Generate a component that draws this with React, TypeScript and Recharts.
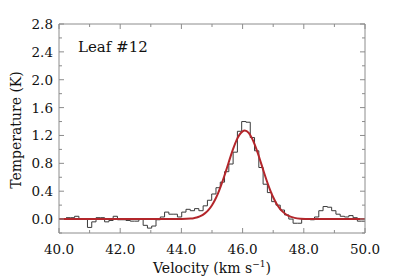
import React from 'react';
import { LineChart, Line, XAxis, YAxis } from 'recharts';

// spectrum channels (km/s) and brightness temperature (K)
const channelStart = 40.23;
const channelWidth = 0.14;
const spectrumT = [
  0.02, 0.02, 0.04, 0.0, 0.0, -0.12, -0.04, 0.02, 0.02, -0.04,
  -0.02, 0.04, -0.01, -0.01, -0.02, -0.03, -0.03, 0.0, -0.09, -0.13,
  -0.1, -0.01, 0.03, 0.1, 0.07, 0.07, 0.03, 0.1, 0.14, 0.12,
  0.15, 0.12, 0.19, 0.27, 0.36, 0.45, 0.53, 0.68, 0.79, 0.96,
  1.26, 1.4, 1.39, 1.17, 0.98, 0.74, 0.5, 0.38, 0.25, 0.2,
  0.13, 0.06, 0.0, -0.06, -0.06, 0.0, 0.0, -0.01, 0.03, 0.12,
  0.18, 0.17, 0.12, 0.07, 0.04, 0.03, 0.05, 0.02, -0.03, -0.03,
];

// gaussian fit
const fitV = [
  40.0, 42.0, 43.5, 44.0, 44.3, 44.4, 44.5, 44.6, 44.7, 44.8, 44.9, 45.0, 45.1, 45.2,
  45.3, 45.4, 45.5, 45.6, 45.7, 45.8, 45.9, 46.0, 46.07, 46.2, 46.3, 46.4, 46.5,
  46.6, 46.7, 46.8, 46.9, 47.0, 47.1, 47.2, 47.3, 47.4, 47.5, 47.7, 47.9, 48.2, 50.0,
];
const fitT = [
  0, 0, 0, 0.002, 0.008, 0.013, 0.022, 0.038, 0.061, 0.093, 0.139, 0.199, 0.277, 0.373,
  0.487, 0.614, 0.751, 0.889, 1.018, 1.129, 1.212, 1.26, 1.27, 1.236, 1.166, 1.065, 0.942,
  0.806, 0.668, 0.536, 0.417, 0.313, 0.228, 0.161, 0.11, 0.073, 0.046, 0.017, 0.006, 0.001, 0,
];

const xTicks = [40, 41, 42, 43, 44, 45, 46, 47, 48, 49, 50];
const yTicks = [-0.2, 0, 0.2, 0.4, 0.6, 0.8, 1.0, 1.2, 1.4, 1.6, 1.8, 2.0, 2.2, 2.4, 2.6, 2.8];

// only DejaVu Serif gives real serifs in this sandbox
const FONT = 'DejaVu Serif';
const AXIS = '#8c8c8c';

// stepAfter needs the left edge of every channel plus a closing point
const histData = spectrumT.map((t, i) => ({ v: +(channelStart + i * channelWidth).toFixed(3), t }));
histData.push({
  v: Math.min(50, channelStart + spectrumT.length * channelWidth),
  t: spectrumT[spectrumT.length - 1],
});
const fitData = fitV.map((v, i) => ({ v, t: fitT[i] }));

const isMajorX = (v: number) => Math.round(v) % 2 === 0;
const isMajorY = (v: number) => Math.round(v * 10) % 4 === 0;

const BottomTick = (props: any) => {
  const { x, y, payload } = props;
  const major = isMajorX(payload.value);
  return (
    <g>
      <line x1={x} y1={y} x2={x} y2={y - (major ? 5 : 3)} stroke={AXIS} />
      {major && (
        <text x={x} y={y + 21} textAnchor="middle" fontSize={13.5} fontFamily={FONT} fill="#111">
          {payload.value.toFixed(1)}
        </text>
      )}
    </g>
  );
};

const TopTick = (props: any) => {
  const { x, y, payload } = props;
  const major = isMajorX(payload.value);
  return <line x1={x} y1={y} x2={x} y2={y + (major ? 5 : 3)} stroke={AXIS} />;
};

const LeftTick = (props: any) => {
  const { x, y, payload } = props;
  const major = isMajorY(payload.value);
  return (
    <g>
      <line x1={x} y1={y} x2={x + (major ? 5 : 3)} y2={y} stroke={AXIS} />
      {major && (
        <text x={x - 6} y={y + 5} textAnchor="end" fontSize={13.5} fontFamily={FONT} fill="#111">
          {payload.value.toFixed(1)}
        </text>
      )}
    </g>
  );
};

const RightTick = (props: any) => {
  const { x, y, payload } = props;
  const major = isMajorY(payload.value);
  return <line x1={x} y1={y} x2={x - (major ? 5 : 3)} y2={y} stroke={AXIS} />;
};

export default function App() {
  return (
    <div style={{ position: 'absolute', left: 0, top: 0, width: 395, height: 280, background: '#fff' }}>
      <LineChart width={395} height={280} margin={{ top: 23, right: 29, bottom: 0, left: 0 }}>
        <XAxis
          xAxisId="b"
          dataKey="v"
          type="number"
          domain={[40, 50]}
          ticks={xTicks}
          allowDataOverflow
          height={47}
          tickSize={0}
          tickMargin={0}
          interval={0}
          stroke={AXIS}
          tick={<BottomTick />}
        />
        <XAxis
          xAxisId="t"
          dataKey="v"
          orientation="top"
          type="number"
          domain={[40, 50]}
          ticks={xTicks}
          allowDataOverflow
          height={1}
          tickSize={0}
          tickMargin={0}
          interval={0}
          stroke={AXIS}
          tick={<TopTick />}
        />
        <YAxis
          yAxisId="l"
          type="number"
          domain={[-0.2, 2.8]}
          ticks={yTicks}
          allowDataOverflow
          width={59}
          tickSize={0}
          tickMargin={0}
          interval={0}
          stroke={AXIS}
          tick={<LeftTick />}
        />
        <YAxis
          yAxisId="r"
          orientation="right"
          type="number"
          domain={[-0.2, 2.8]}
          ticks={yTicks}
          allowDataOverflow
          width={1}
          tickSize={0}
          tickMargin={0}
          interval={0}
          stroke={AXIS}
          tick={<RightTick />}
        />
        {/* invisible series so the mirrored top/right axes get drawn */}
        <Line
          xAxisId="t"
          yAxisId="r"
          data={fitData}
          dataKey="t"
          stroke="none"
          dot={false}
          isAnimationActive={false}
        />
        <Line
          xAxisId="b"
          yAxisId="l"
          data={histData}
          dataKey="t"
          type="stepAfter"
          stroke="#3a3a3a"
          strokeWidth={1}
          dot={false}
          isAnimationActive={false}
        />
        <Line
          xAxisId="b"
          yAxisId="l"
          data={fitData}
          dataKey="t"
          type="monotone"
          stroke="#b3262b"
          strokeWidth={2}
          dot={false}
          isAnimationActive={false}
        />
      </LineChart>
      <svg width={395} height={280} style={{ position: 'absolute', left: 0, top: 0, pointerEvents: 'none' }}>
        <text x={78} y={52} fontSize={15} fontFamily={FONT} fill="#111">Leaf #12</text>
        <text x={212} y={273} textAnchor="middle" fontSize={14} fontFamily={FONT} fill="#111">
          Velocity (km s<tspan dy={-6} fontSize={9}>−1</tspan><tspan dy={6}>)</tspan>
        </text>
        <text
          x={21}
          y={130}
          textAnchor="middle"
          fontSize={14}
          fontFamily={FONT}
          fill="#111"
          transform="rotate(-90 21 130)"
        >
          Temperature (K)
        </text>
      </svg>
    </div>
  );
}
